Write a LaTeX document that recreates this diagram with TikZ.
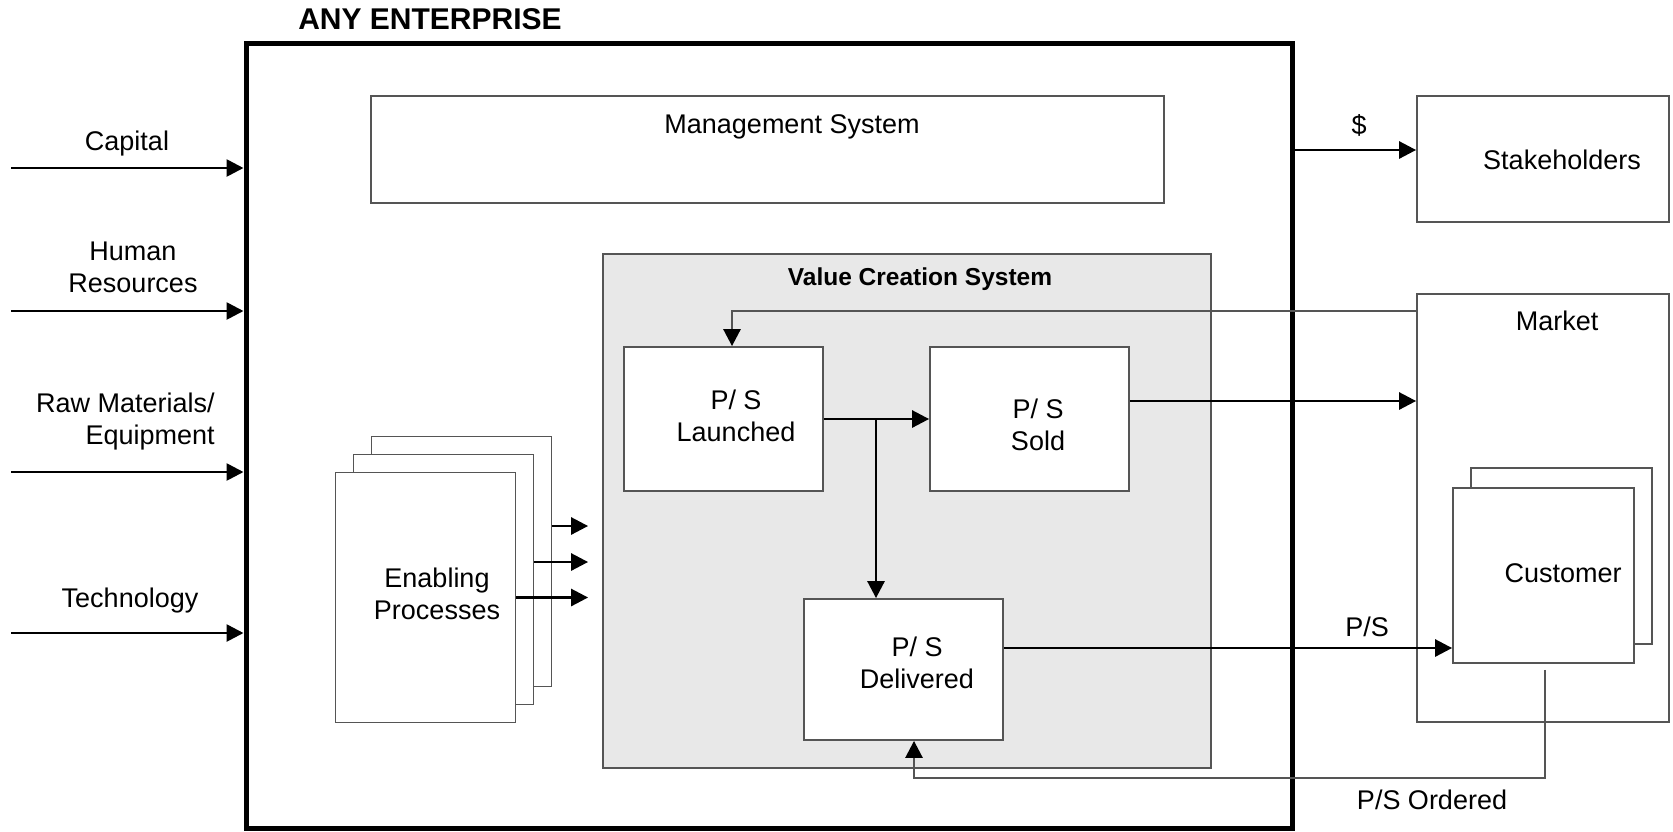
\documentclass[tikz,border=0pt]{standalone}
\usepackage{fontspec}
\setmainfont{Liberation Sans}
\usetikzlibrary{arrows.meta,positioning,calc}

\definecolor{vcsgray}{RGB}{232,232,232}
\definecolor{boxline}{RGB}{85,85,85}

\tikzset{
  box/.style={draw=boxline, line width=0.9pt, fill=white, inner sep=0pt},
  txt/.style={align=center, inner sep=0pt, font=\fontsize{13.5}{16}\selectfont},
  bold/.style={inner sep=0pt, font=\fontsize{#1}{16}\selectfont\bfseries},
  arr/.style={line width=1.35pt, -{Triangle[length=8.5pt,width=8.5pt]}},
  fbarr/.style={draw=boxline, line width=0.8pt, -{Triangle[length=8.5pt,width=8.5pt,line width=1.35pt,color=black]}},
}

\begin{document}
\begin{tikzpicture}[x=0.5pt,y=-0.5pt]
  \useasboundingbox (0,0) rectangle (1673,831);

  % the enterprise
  \node[draw, line width=2.5pt, minimum width=523pt, minimum height=392.5pt] (ent) at (769,435.5) {};
  \node[bold=15] (ent-txt) at (430,19) {ANY ENTERPRISE};

  \node[box, minimum width=396.5pt, minimum height=53.5pt] (mgmt) at (767.5,149.5) {};
  \node[txt] (mgmt-txt) at (792,127) {Management System};

  % value creation system
  \node[box, fill=vcsgray, minimum width=304pt, minimum height=257pt] (vcs) at (907,511) {};
  \node[bold=12.25] (vcs-txt) at (920,279) {Value Creation System};

  \node[box, minimum width=99.5pt, minimum height=72pt] (launched) at (723.5,419) {};
  \node[txt] (launched-txt) at (736,416) {P/ S\\Launched};
  \node[box, minimum width=99.5pt, minimum height=72pt] (sold) at (1029.5,419) {};
  \node[txt] (sold-txt) at (1038,425) {P/ S\\Sold};
  \node[box, minimum width=99.5pt, minimum height=70.5pt] (delivered) at (903.5,669.5) {};
  \node[txt] (delivered-txt) at (917,663) {P/ S\\Delivered};

  % enabling processes (stack of three)
  \node[box, minimum width=90pt, minimum height=125pt] (en-back) at (461.5,561.5) {};
  \node[box, minimum width=90pt, minimum height=125pt] (en-mid) at (443.5,579.5) {};
  \node[box, minimum width=90pt, minimum height=125pt] (en-front) at (425.5,597.5) {};
  \node[txt] (en-txt) at (437,594) {Enabling\\Processes};

  % outside
  \node[box, minimum width=126pt, minimum height=63pt] (stake) at (1543,159) {};
  \node[txt] (stake-txt) at (1562,160) {Stakeholders};
  \node[box, minimum width=126pt, minimum height=214pt] (market) at (1543,508) {};
  \node[txt] (market-txt) at (1557,321) {Market};
  \node[box, minimum width=90.5pt, minimum height=88pt] (cust-back) at (1561.5,556) {};
  \node[box, minimum width=90.5pt, minimum height=87.5pt] (cust) at (1543.5,575.5) {};
  \node[txt] (cust-txt) at (1563,573) {Customer};

  % inputs
  \coordinate (cap) at (11,168);
  \coordinate (hr) at (11,311);
  \coordinate (raw) at (11,472);
  \coordinate (tech) at (11,633);
  \draw[arr] (cap) -- (cap -| ent.west);
  \draw[arr] (hr) -- (hr -| ent.west);
  \draw[arr] (raw) -- (raw -| ent.west);
  \draw[arr] (tech) -- (tech -| ent.west);
  \node[txt] (cap-txt) at (127,144) {Capital};
  \node[txt] (hr-txt) at (133,267) {Human\\Resources};
  \node[txt, align=right, anchor=east] (raw-txt) at (215,422) {Raw Materials/\\Equipment};
  \node[txt] (tech-txt) at (130,601) {Technology};

  % flows
  \draw[arr] ($(en-back.east)+(0,-35.5)$) -- ($(en-back.east -| vcs.west)+(-14,-35.5)$);
  \draw[arr] ($(en-mid.east)+(0,-17.5)$) -- ($(en-mid.east -| vcs.west)+(-14,-17.5)$);
  \draw[arr] (en-front.east) -- ($(en-front.east -| vcs.west)+(-14,0)$);

  \draw[arr] (launched.east) -- (sold.west);
  \draw[arr] ($(delivered.north |- launched.east)+(-27.5,0)$) -- ($(delivered.north)+(-27.5,0)$);
  \draw[fbarr] ($(market.north west)+(0,18)$) -| ($(launched.north)+(8.5,0)$);
  \draw[arr] ($(sold.east)+(0,-18)$) -- ($(sold.east -| market.west)+(0,-18)$);
  \draw[arr] ($(stake.west -| ent.east)+(0,-9)$) -- ($(stake.west)+(0,-9)$);
  \node[txt] (dollar) at (1359,125) {\$};
  \draw[arr] ($(delivered.east)+(0,-21.5)$) -- ($(delivered.east -| cust.west)+(0,-21.5)$);
  \node[txt] (ps-txt) at (1367,627) {P/S};
  \draw[fbarr] ($(cust.south)+(1.5,6)$) |- ($(delivered.south)+(10.5,37)$) -- ($(delivered.south)+(10.5,0)$);
  \node[txt] (ord-txt) at (1432,800) {P/S Ordered};
\end{tikzpicture}
\end{document}
